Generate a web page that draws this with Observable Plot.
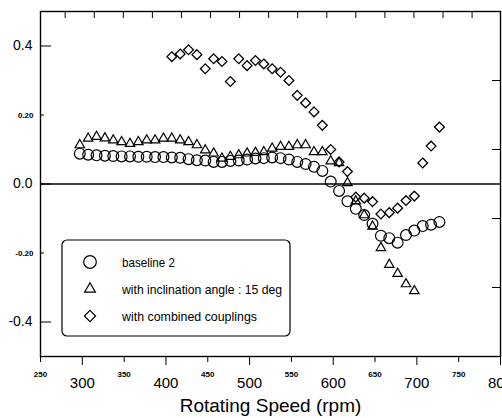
<!DOCTYPE html>
<html><head><meta charset="utf-8">
<script src="https://cdn.jsdelivr.net/npm/d3@7"></script>
<script src="https://cdn.jsdelivr.net/npm/@observablehq/plot@0.6"></script>
<style>
html,body{margin:0;padding:0;background:#fff;}
#chart{width:502px;height:418px;overflow:hidden;}
</style></head><body><div id="chart"></div>
<script>
// ---- data ----
const baselineRpm = [297,307,317,327,337,347,357,367,377,387,397,407,417,427,437,447,457,467,477,487,497,507,517,527,537,547,557,567,577,587,597,607,617,627,637,647,657,667,677,687,697,707,717,727];
const baselineVal = [0.088,0.085,0.083,0.082,0.081,0.080,0.080,0.079,0.079,0.078,0.078,0.077,0.076,0.072,0.069,0.068,0.064,0.064,0.067,0.068,0.071,0.074,0.075,0.077,0.075,0.071,0.064,0.058,0.050,0.038,0.007,-0.020,-0.050,-0.072,-0.090,-0.115,-0.150,-0.157,-0.170,-0.148,-0.135,-0.122,-0.118,-0.110];

const inclinedRpm = [297,307,317,327,337,347,357,367,377,387,397,407,417,427,437,447,457,467,477,487,497,507,517,527,537,547,557,567,577,587,597,607,617,627,637,647,657,667,677,687,697];
const inclinedVal = [0.113,0.132,0.137,0.133,0.127,0.122,0.117,0.122,0.127,0.127,0.132,0.132,0.127,0.122,0.113,0.098,0.089,0.074,0.079,0.084,0.089,0.091,0.093,0.103,0.108,0.108,0.113,0.113,0.093,0.093,0.066,0.061,0.003,-0.050,-0.090,-0.123,-0.185,-0.234,-0.260,-0.290,-0.310];

const combinedRpm = [407,417,427,437,447,457,467,477,487,497,507,517,527,537,547,557,567,577,587,597,607,617,627,637,647,657,667,677,687,697,707,717,727];
const combinedVal = [0.369,0.377,0.389,0.375,0.334,0.363,0.355,0.297,0.363,0.343,0.358,0.348,0.334,0.324,0.300,0.257,0.235,0.209,0.170,0.100,0.064,0.036,-0.038,-0.041,-0.051,-0.087,-0.083,-0.070,-0.048,-0.035,0.061,0.110,0.165];

const legendLabels = ["baseline 2", "with inclination angle : 15 deg", "with combined couplings"];

const xMajorTicks = [300,400,500,600,700,800];
const xMinorTicks = [250,350,450,550,650,750];
const topTicks = [279.5,314.3,349,383.8,418.5,453.3,488,522.8,557.5,592.3,627,661.8,696.5,731.3,766];
const yMajorTicks = [0.4,0,-0.4];
const yMajorLabels = ["0.4","0.0","-0.4"];
const yMinorTicks = [0.2,-0.2];
const yMinorLabels = ["0.20","-0.20"];
const yRightTicks = [0.3,0.1,-0.1,-0.3];
const xTitle = "Rotating Speed (rpm)";

// ---- build tables ----
const toRows = (xs, ys) => xs.map((x, i) => ({rpm: x, val: ys[i]}));
const baseline = toRows(baselineRpm, baselineVal);
const inclined = toRows(inclinedRpm, inclinedVal);
const combined = toRows(combinedRpm, combinedVal);
const majorMap = new Map(yMajorTicks.map((t, i) => [t, yMajorLabels[i]]));
const minorMap = new Map(yMinorTicks.map((t, i) => [t, yMinorLabels[i]]));

const FONT = "'Liberation Sans', Arial, sans-serif";
const plot = Plot.plot({
  width: 502, height: 418,
  marginLeft: 40, marginRight: 2, marginTop: 11, marginBottom: 62,
  style: {fontFamily: FONT, color: "#000", background: "#fff", overflow: "visible"},
  x: {domain: [250, 800]},
  y: {domain: [-0.5, 0.5]},
  marks: [
    Plot.ruleY([0], {stroke: "#000", strokeWidth: 1.4}),
    Plot.dot(inclined, {x: "rpm", y: "val", symbol: "triangle", r: 3.5, stroke: "#000", strokeWidth: 1.2, fill: "none"}),
    Plot.dot(baseline, {x: "rpm", y: "val", symbol: "circle", r: 5.4, stroke: "#000", strokeWidth: 1.2, fill: "none"}),
    Plot.dot(combined, {x: "rpm", y: "val", symbol: "diamond2", r: 4.4, stroke: "#000", strokeWidth: 1.3, fill: "none"}),
    Plot.axisX(xMajorTicks, {anchor: "bottom", tickSize: 9, tickPadding: 12, fontSize: 15, letterSpacing: -1.2, tickFormat: d => String(d), label: null}),
    Plot.axisX(xMinorTicks, {anchor: "bottom", tickSize: 6, tickPadding: 9, fontSize: 8, letterSpacing: -0.5, fontWeight: "bold", tickFormat: d => String(d), label: null}),
    Plot.axisX(topTicks, {anchor: "top", tickSize: -6, tickFormat: () => "", label: null}),
    Plot.axisY(yMajorTicks, {anchor: "left", tickSize: -11, tickPadding: 19, fontSize: 14, letterSpacing: -1, tickFormat: d => majorMap.get(d), label: null}),
    Plot.axisY(yMinorTicks, {anchor: "left", tickSize: -4, tickPadding: 11, fontSize: 8, letterSpacing: -0.5, fontWeight: "bold", tickFormat: d => minorMap.get(d), label: null}),
    Plot.axisY(yRightTicks, {anchor: "right", tickSize: -9, tickFormat: () => "", label: null}),
    Plot.axisX([], {anchor: "bottom", label: xTitle, labelAnchor: "center", labelArrow: "none", labelOffset: 55, fontSize: 19, tickSize: 0}),
    Plot.frame({stroke: "#000", strokeWidth: 1.4})
  ]
});

// ---- legend (drawn into the same svg) ----
const svg = d3.select(plot);
const lg = svg.append("g").attr("font-family", FONT).attr("text-anchor", "start");
lg.append("rect").attr("x", 62).attr("y", 240).attr("width", 228).attr("height", 96)
  .attr("rx", 5).attr("fill", "#fff").attr("stroke", "#000").attr("stroke-width", 1.2);
const legendSymbols = [d3.symbolCircle, d3.symbolTriangle, d3.symbolDiamond2];
const legendSizes = [125, 50, 80];
const legendWidths = [53, 160, 135];
legendLabels.forEach((lab, i) => {
  const cy = 262 + i * 27;
  lg.append("path").attr("d", d3.symbol(legendSymbols[i], legendSizes[i])())
    .attr("transform", `translate(90,${cy})`).attr("fill", "none").attr("stroke", "#000").attr("stroke-width", 1.2);
  lg.append("text").attr("x", 122).attr("y", cy + 5).attr("font-size", 13)
    .attr("textLength", legendWidths[i]).attr("lengthAdjust", "spacingAndGlyphs")
    .text(lab);
});

document.getElementById("chart").appendChild(plot);
</script>
</body></html>
